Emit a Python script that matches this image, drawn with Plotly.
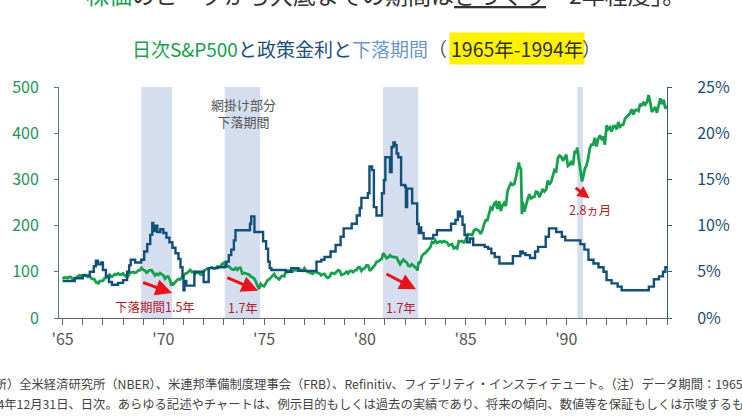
import plotly.graph_objects as go

# ---------------- data ----------------
# S&P 500 month-end closes, Jan..Dec of each year
sp500_dec1964 = 84.75
sp500_1960s = [
    87.6, 87.4, 86.2, 89.1, 88.4, 84.1, 85.3, 87.2, 90.0, 92.4, 91.6, 92.4,   # 1965
    92.9, 91.2, 89.2, 91.1, 86.1, 84.7, 83.6, 77.1, 76.6, 80.2, 80.5, 80.3,   # 1966
    86.6, 86.8, 90.2, 94.0, 89.1, 90.6, 94.8, 93.6, 96.7, 93.9, 94.0, 96.5,   # 1967
    92.2, 89.4, 90.2, 97.5, 98.7, 99.6, 97.7, 98.9, 102.7, 103.4, 108.4, 103.9,  # 1968
    103.0, 98.1, 101.5, 103.7, 103.5, 97.7, 91.8, 95.5, 93.1, 97.2, 93.8, 92.1,  # 1969
]
sp500_1970s = [
    85.0, 89.5, 89.6, 81.5, 76.6, 72.7, 78.1, 81.5, 84.3, 83.3, 87.2, 92.2,
    95.9, 97.0, 100.3, 104.0, 99.6, 99.7, 95.6, 99.0, 98.3, 94.2, 94.0, 102.1,
    103.9, 106.6, 107.2, 107.7, 109.5, 107.1, 107.4, 111.1, 110.6, 111.6, 116.7, 118.1,
    116.0, 111.7, 111.5, 107.0, 105.0, 104.3, 108.2, 104.3, 108.4, 108.3, 96.0, 97.6,
    96.6, 96.2, 94.0, 90.3, 87.3, 86.0, 79.3, 72.2, 63.5, 73.9, 70.0, 68.6,
    77.0, 81.6, 83.4, 87.3, 91.2, 95.2, 88.8, 86.9, 83.9, 89.0, 91.2, 90.2,
    100.9, 99.7, 102.8, 101.6, 100.2, 104.3, 103.4, 102.9, 105.2, 102.9, 102.1, 107.5,
    102.0, 99.8, 98.4, 98.4, 96.1, 100.5, 98.9, 96.8, 96.5, 92.3, 94.8, 95.1,
    89.3, 87.0, 89.2, 97.0, 97.2, 95.5, 100.7, 103.3, 102.5, 93.2, 94.7, 96.1,
    99.9, 96.3, 101.6, 101.8, 99.1, 102.9, 103.8, 109.3, 109.3, 101.8, 106.2, 107.9,
]
sp500_1980s = [
    114.2, 113.7, 102.1, 106.3, 111.2, 114.2, 121.7, 122.4, 125.5, 127.5, 140.5, 135.8,
    129.6, 131.3, 136.0, 132.8, 132.6, 131.2, 130.9, 122.8, 116.2, 121.9, 126.4, 122.6,
    120.4, 113.1, 112.0, 116.4, 111.9, 109.6, 107.1, 119.5, 120.4, 133.7, 138.5, 140.6,
    145.3, 148.1, 153.0, 164.4, 162.4, 168.1, 162.6, 164.4, 166.1, 163.6, 166.4, 164.9,
    163.4, 157.1, 159.2, 160.1, 150.6, 153.2, 150.7, 166.7, 166.1, 166.1, 163.6, 167.2,
    179.6, 181.2, 180.7, 179.8, 189.6, 191.9, 190.9, 188.6, 182.1, 189.8, 202.2, 211.3,
    211.8, 226.9, 238.9, 235.5, 247.4, 250.8, 236.1, 252.9, 231.3, 244.0, 249.2, 242.2,
    274.1, 284.2, 291.7, 288.4, 290.1, 304.0, 318.7, 329.8, 321.8, 251.8, 230.3, 247.1,
    257.1, 267.8, 258.9, 261.3, 262.2, 273.5, 272.0, 261.5, 271.9, 279.0, 273.7, 277.7,
    297.5, 288.9, 294.9, 309.6, 320.5, 318.0, 346.1, 351.5, 349.2, 340.4, 346.0, 353.4,
]
sp500_1990s = [
    329.1, 331.9, 339.9, 330.8, 361.2, 358.0, 356.2, 322.6, 306.1, 304.0, 322.2, 330.2,
    343.9, 367.1, 375.2, 375.3, 389.8, 371.2, 387.8, 395.4, 387.9, 392.5, 375.2, 417.1,
    408.8, 412.7, 403.7, 415.0, 415.4, 408.1, 424.2, 414.0, 417.8, 418.7, 431.4, 435.7,
    438.8, 443.4, 451.7, 440.2, 450.2, 450.5, 448.1, 463.6, 458.9, 467.8, 461.8, 466.5,
    481.6, 467.1, 445.8, 450.9, 456.5, 444.3, 458.3, 475.5, 462.7, 472.4, 453.7, 459.3,
]
# notable daily highs / lows (decimal year, index level)
sp500_extreme_x = [1966.77, 1968.91, 1970.40, 1973.03, 1974.75, 1982.61,
                   1987.65, 1987.80, 1990.54, 1990.78, 1994.09]
sp500_extreme_v = [73.2, 108.4, 69.3, 120.2, 62.3, 102.4,
                   336.8, 224.8, 369.0, 295.5, 482.0]

# policy rate (%), step series: value holds from each date until the next
rate_x = [1965.00, 1965.60, 1966.00, 1966.35, 1966.55, 1966.65, 1966.75, 1966.90,
          1967.00, 1967.15, 1967.30, 1967.45, 1967.75, 1968.00, 1968.20, 1968.30,
          1968.38, 1968.60, 1968.90, 1969.05, 1969.20, 1969.35, 1969.45, 1969.50,
          1969.60, 1969.70, 1969.85, 1970.00, 1970.15, 1970.30, 1970.45, 1970.60,
          1970.75, 1970.85, 1970.95, 1971.00, 1971.05, 1971.14, 1971.54, 1972.00,
          1972.25, 1972.70, 1973.05, 1973.13, 1973.25, 1973.37, 1973.50, 1973.58,
          1974.30, 1974.36, 1974.52, 1974.95, 1975.10, 1975.20, 1975.28, 1975.36,
          1976.10, 1976.35, 1976.70, 1977.60, 1977.84, 1978.00, 1978.30, 1978.55,
          1978.80, 1978.95, 1979.35, 1979.60, 1979.75, 1979.83, 1980.15, 1980.23,
          1980.36, 1980.45, 1980.58, 1980.85, 1980.95, 1981.02, 1981.25, 1981.33,
          1981.42, 1981.50, 1981.58, 1981.66, 1981.80, 1982.00, 1982.04, 1982.10,
          1982.35, 1982.60, 1982.68, 1982.74, 1982.80, 1982.92, 1983.40, 1983.58,
          1984.28, 1984.50, 1984.62, 1984.72, 1984.85, 1984.95, 1985.08, 1985.22,
          1985.38, 1985.95, 1986.12, 1986.28, 1986.45, 1986.68, 1987.35, 1987.72,
          1987.84, 1987.97, 1988.20, 1988.45, 1988.60, 1988.98, 1989.14, 1989.50,
          1989.78, 1989.95, 1990.70, 1990.90, 1991.10, 1991.35, 1991.60, 1991.85,
          1992.00, 1992.25, 1992.55, 1992.75, 1994.10, 1994.35, 1994.60, 1994.80,
          1994.92, 1995.00]
rate_v = [4.0, 4.3, 4.6, 5.0, 5.6, 6.2, 5.8, 6.0,
          5.2, 4.5, 3.9, 3.6, 3.8, 4.1, 5.0, 5.7,
          6.3, 6.0, 6.3, 7.2, 8.0, 9.0, 10.3, 9.4,
          10.0, 9.3, 9.6, 9.2, 8.7, 8.2, 7.6, 7.0,
          6.4, 5.5, 4.5, 3.0, 4.0, 3.5, 5.0, 3.9,
          5.4, 5.5, 5.6, 6.1, 6.8, 7.4, 8.4, 9.5,
          10.2, 11.0, 9.3, 8.3, 7.5, 6.1, 5.4, 5.2,
          5.0, 5.4, 5.1, 6.1, 6.3, 6.6, 7.2, 7.9,
          8.8, 9.7, 10.2, 11.1, 11.9, 13.0, 13.5, 16.4,
          16.0, 12.0, 11.1, 13.5, 14.9, 17.4, 15.8, 18.5,
          19.0, 18.7, 17.8, 17.4, 14.4, 14.2, 12.0, 14.0,
          12.4, 10.2, 9.2, 9.8, 9.2, 8.6, 9.0, 9.5,
          10.2, 10.6, 11.5, 11.0, 10.1, 9.0, 8.2, 8.6,
          7.9, 7.7, 7.5, 7.0, 6.6, 5.9, 6.7, 7.2,
          7.0, 6.8, 6.5, 7.2, 7.7, 8.8, 9.7, 9.3,
          8.8, 8.4, 8.0, 7.4, 6.3, 5.9, 5.5, 5.0,
          4.1, 3.75, 3.4, 3.0, 3.4, 4.2, 4.5, 5.0,
          5.5, 5.5]

# decline periods (start, end in decimal years) and labels
decline_start = [1968.90, 1973.05, 1980.90, 1990.55]
decline_end = [1970.43, 1974.80, 1982.65, 1990.83]
decline_labels = ["下落期間1.5年", "1.7年", "1.7年", "2.8ヵ月"]
label_x = [1969.6, 1973.95, 1981.8, 1991.2]
label_y = [24, 22, 22, 235]
arrow_tail_x = [1968.92, 1973.10, 1981.00, 1990.39]
arrow_tail_y = [78, 89, 97, 284]
arrow_head_x = [1970.43, 1974.70, 1982.54, 1991.15]
arrow_head_y = [54, 59, 62, 259]
arrow_scale = [1.1, 1.1, 1.1, 0.8]

year_ticks = [1965, 1970, 1975, 1980, 1985, 1990]
year_labels = ["'65", "'70", "'75", "'80", "'85", "'90"]

# ---------------- build ----------------
GREEN = "#17a14e"
BLUE = "#124f7b"
RED = "#e8141b"
DARKRED = "#b31d2b"
FONT = "Noto Sans CJK JP"

pts = [(1965.0, sp500_dec1964)]
for start, arr in [(1965, sp500_1960s), (1970, sp500_1970s), (1980, sp500_1980s), (1990, sp500_1990s)]:
    for i, v in enumerate(arr):
        pts.append((start + (i + 1) / 12.0, v))
pts += list(zip(sp500_extreme_x, sp500_extreme_v))
pts.sort()
sp_x = [p[0] for p in pts]
sp_v = [p[1] for p in pts]

fig = go.Figure()
fig.add_trace(go.Scatter(x=sp_x, y=sp_v, mode="lines", yaxis="y",
                         line=dict(color=GREEN, width=2.8), showlegend=False))
fig.add_trace(go.Scatter(x=rate_x, y=rate_v, mode="lines", yaxis="y2",
                         line=dict(color=BLUE, width=2.4, shape="hv"), showlegend=False))

for s, e in zip(decline_start, decline_end):
    fig.add_shape(type="rect", xref="x", yref="y", x0=s, x1=e, y0=0, y1=500,
                  fillcolor="#d5deef", line=dict(width=0), layer="below")

ann = []
for tx, ty, hx, hy, sc in zip(arrow_tail_x, arrow_tail_y, arrow_head_x, arrow_head_y, arrow_scale):
    ann.append(dict(x=hx, y=hy, ax=tx, ay=ty, xref="x", yref="y", axref="x", ayref="y",
                    text="", showarrow=True, arrowhead=2, arrowsize=sc, arrowwidth=3,
                    arrowcolor=RED))
for t, lx, ly in zip(decline_labels, label_x, label_y):
    ann.append(dict(x=lx, y=ly, xref="x", yref="y", text=t, showarrow=False,
                    font=dict(family=FONT, size=12.5, color=DARKRED)))
ann.append(dict(x=1974.0, y=443, xref="x", yref="y", text="網掛け部分<br>下落期間",
                showarrow=False, font=dict(family=FONT, size=13, color="#555555")))

# title
ann.append(dict(x=0.6408, y=1.1688, xref="paper", yref="paper", xanchor="right", yanchor="middle",
                showarrow=False,
                text=("<span style='color:%s'>日次S&amp;P500</span>"
                      "<span style='color:#1b4f7c'>と政策金利と</span>"
                      "<span style='color:#6d97c6'>下落期間</span>"
                      "<span style='color:#555555'>（</span>") % GREEN,
                font=dict(family=FONT, size=19)))
ann.append(dict(x=0.6408, y=1.1688, xref="paper", yref="paper", xanchor="left", yanchor="middle",
                showarrow=False, text="1965年-1994年", bgcolor="#fff200", borderpad=1,
                font=dict(family=FONT, size=19.5, color="#333333")))
ann.append(dict(x=0.8576, y=1.1688, xref="paper", yref="paper", xanchor="left", yanchor="middle",
                showarrow=False, text="）", font=dict(family=FONT, size=19, color="#555555")))
# cut headline at very top
ann.append(dict(x=0.041, y=1.402, xref="paper", yref="paper", xanchor="left", yanchor="middle",
                showarrow=False,
                text=("<span style='color:%s'>株価</span>のピークから大底までの期間は"
                      "<u>ざっくり</u>「2年程度」。") % GREEN,
                font=dict(family=FONT, size=23, color="#333333")))
# footer
ann.append(dict(x=-0.149, y=-0.286, xref="paper", yref="paper", xanchor="left", yanchor="middle",
                showarrow=False,
                text="（出所）全米経済研究所（NBER）、米連邦準備制度理事会（FRB）、Refinitiv、フィデリティ・インスティテュート。（注）データ期間：1965年1月1日～",
                font=dict(family=FONT, size=12.3, color="#444444")))
ann.append(dict(x=-0.138, y=-0.372, xref="paper", yref="paper", xanchor="left", yanchor="middle",
                showarrow=False,
                text="1994年12月31日、日次。あらゆる記述やチャートは、例示目的もしくは過去の実績であり、将来の傾向、数値等を保証もしくは示唆するものではありません。",
                font=dict(family=FONT, size=12.3, color="#444444")))

fig.update_layout(
    width=742, height=417,
    margin=dict(l=53, r=57, t=87, b=99),
    paper_bgcolor="white", plot_bgcolor="white",
    font=dict(family=FONT),
    annotations=ann,
    xaxis=dict(range=[1964.82, 1995.0], tickmode="array", tickvals=year_ticks, ticktext=year_labels,
               ticks="outside", ticklen=6, tickwidth=1, tickcolor="#666666",
               showline=True, linecolor="#666666", linewidth=1,
               showgrid=False, zeroline=False, ticklabelstandoff=1,
               tickfont=dict(family=FONT, size=16, color="#555555"),
               minor=dict(tickmode="linear", tick0=1965, dtick=1, ticks="outside",
                          ticklen=6, tickcolor="#666666", showgrid=False)),
    yaxis=dict(range=[0, 500], dtick=100, ticks="outside", ticklen=4, tickcolor="#5a8070",
               showline=True, linecolor="#5a8070", linewidth=1,
               showgrid=False, zeroline=False, ticklabelstandoff=12,
               tickfont=dict(family=FONT, size=16, color="#1f9358")),
    yaxis2=dict(range=[0, 25], dtick=5, ticksuffix="%", overlaying="y", side="right",
                ticks="outside", ticklen=4, tickcolor="#3d5a73",
                showline=True, linecolor="#3d5a73", linewidth=1,
                showgrid=False, zeroline=False, ticklabelstandoff=22,
                tickfont=dict(family=FONT, size=16, color="#1d4d73")),
)

fig.write_html("out.html", config={"displayModeBar": False},
               post_script="document.body.style.margin='0';")
